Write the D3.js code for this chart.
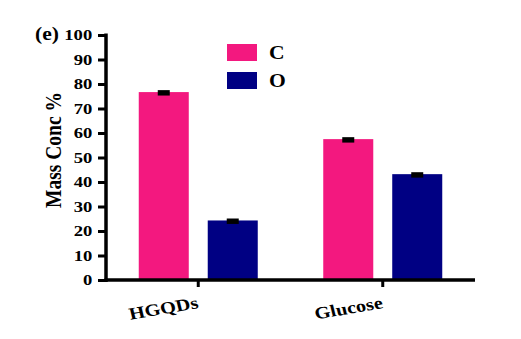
<!DOCTYPE html>
<html>
<head>
<meta charset="utf-8">
<script src="https://cdn.jsdelivr.net/npm/d3@7"></script>
<style>
  html, body { margin: 0; padding: 0; background: #fff; }
  svg text { font-family: "Liberation Serif", "Times New Roman", serif; font-weight: bold; fill: #000; }
</style>
</head>
<body>
<svg id="chart" width="521" height="339"></svg>
<script>
// Elemental mass concentration of carbon and oxygen
const categories = ["HGQDs", "Glucose"];
const seriesNames = ["C", "O"];
const seriesColors = ["#f3187f", "#000083"];
const valuesC = [76.7, 57.5];
const valuesO = [24.3, 43.2];
const errorsC = [0.8, 0.8];
const errorsO = [0.8, 0.8];
const yTicks = [0, 10, 20, 30, 40, 50, 60, 70, 80, 90, 100];

const svg = d3.select("#chart");
const plotLeft = 106, plotRight = 475, plotTop = 35, plotBottom = 280;
const stretch = 1.2; // wide lettering

const x = d3.scaleBand().domain(categories).range([plotLeft, plotRight]).padding(0);
const xs = d3.scaleBand().domain(seriesNames).range([-59.5, 59.5]).paddingInner(0.275).paddingOuter(0);
const y = d3.scaleLinear().domain([0, 100]).range([plotBottom, plotTop]);

const rows = categories.map((c, i) => ({
  cat: c,
  vals: [
    { s: "C", v: valuesC[i], e: errorsC[i], color: seriesColors[0] },
    { s: "O", v: valuesO[i], e: errorsO[i], color: seriesColors[1] }
  ]
}));

// bars
const groups = svg.selectAll("g.grp").data(rows).join("g")
  .attr("class", "grp")
  .attr("transform", d => `translate(${x(d.cat) + x.bandwidth() / 2},0)`);

groups.selectAll("rect.bar").data(d => d.vals).join("rect")
  .attr("class", "bar")
  .attr("x", d => xs(d.s))
  .attr("width", xs.bandwidth())
  .attr("y", d => y(d.v))
  .attr("height", d => y(0) - y(d.v))
  .attr("fill", d => d.color);

// error bar caps
groups.selectAll("rect.err").data(d => d.vals).join("rect")
  .attr("class", "err")
  .attr("x", d => xs(d.s) + xs.bandwidth() / 2 - 6)
  .attr("width", 12)
  .attr("y", d => y(d.v + d.e))
  .attr("height", d => y(d.v - d.e) - y(d.v + d.e) + 1.5)
  .attr("fill", "#000");

// y axis
const yAxis = svg.append("g")
  .attr("transform", `translate(${plotLeft},0)`)
  .call(d3.axisLeft(y).tickValues(yTicks).tickSize(8).tickPadding(3.5).tickSizeOuter(0));
yAxis.select(".domain").attr("stroke", "#000").attr("stroke-width", 3.5)
  .attr("d", `M0,${plotTop - 1.5}V${plotBottom + 2}`);
yAxis.selectAll(".tick line").attr("stroke", "#000").attr("stroke-width", 3);
yAxis.selectAll(".tick text")
  .attr("transform", `scale(${stretch},1)`)
  .style("font-size", "15.5px")
  .style("font-family", "'Liberation Serif', 'Times New Roman', serif")
  .style("font-weight", "bold");

// x axis
const xAxis = svg.append("g")
  .attr("transform", `translate(0,${plotBottom})`)
  .call(d3.axisBottom(x).tickSize(7).tickSizeOuter(0).tickFormat(""));
xAxis.select(".domain").attr("stroke", "#000").attr("stroke-width", 3.5)
  .attr("d", `M${plotLeft - 1.5},0H${plotRight}`);
xAxis.selectAll(".tick line").attr("stroke", "#000").attr("stroke-width", 3);

svg.append("g").selectAll("text.xl").data(categories).join("text")
  .attr("class", "xl")
  .attr("text-anchor", "end")
  .attr("transform", d => `translate(${x(d) + x.bandwidth() / 2 + 1},${plotBottom + 28}) scale(${stretch},1) rotate(-11.5)`)
  .style("font-size", "17px")
  .text(d => d);

// y axis title
svg.append("text")
  .attr("transform", `translate(61,150) scale(${stretch},1) rotate(-90)`)
  .attr("text-anchor", "middle")
  .style("font-size", "19.5px")
  .text("Mass Conc %");

// panel label
svg.append("text")
  .attr("transform", `translate(35,40) scale(${stretch},1)`)
  .style("font-size", "18px")
  .text("(e)");

// legend
const legend = svg.append("g").attr("transform", "translate(227,44)");
const li = legend.selectAll("g").data(seriesNames).join("g")
  .attr("transform", (d, i) => `translate(0,${i * 28})`);
li.append("rect").attr("width", 30).attr("height", 17)
  .attr("fill", (d, i) => seriesColors[i]);
li.append("text")
  .attr("transform", `translate(42,15) scale(${stretch},1)`)
  .style("font-size", "18px")
  .text(d => d);
</script>
</body>
</html>
